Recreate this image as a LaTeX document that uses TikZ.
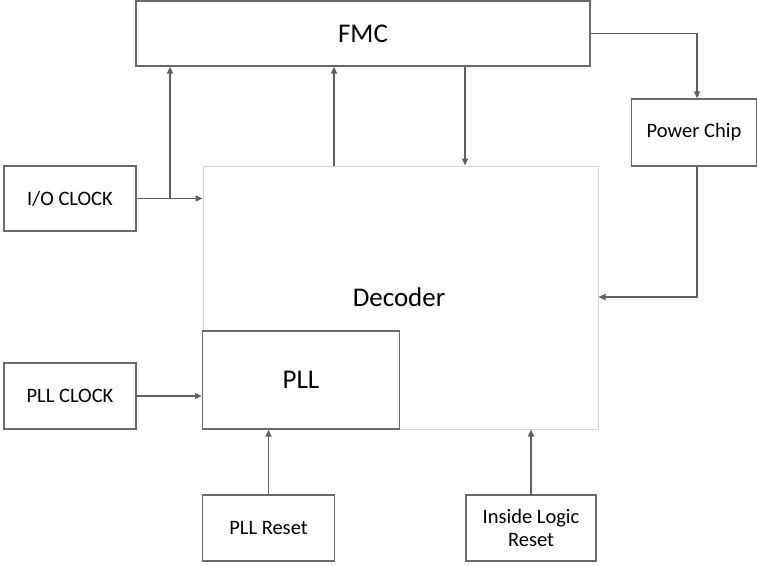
\documentclass[tikz,border=0pt]{standalone}
\usepackage{fontspec}
\setmainfont{Carlito}
\usetikzlibrary{arrows.meta}
\definecolor{linegray}{HTML}{5F5F5F}
\definecolor{boxgray}{HTML}{6A6A6A}
\definecolor{lightgray}{HTML}{D4D4D4}
\begin{document}
\begin{tikzpicture}[x=1pt,y=-1pt,
  blk/.style={draw=boxgray,line width=1.4pt,fill=white,inner sep=0pt},
  conn/.style={draw=linegray,line width=1.6pt,-{Triangle[length=7pt,width=6pt]}},
  small/.style={font=\fontsize{20.5}{23}\selectfont,align=center},
  big/.style={font=\fontsize{27}{29}\selectfont}]
\useasboundingbox (0,0) rectangle (757,565);
% Decoder
\node[draw=lightgray,line width=1pt,minimum width=395pt,minimum height=263pt,inner sep=0pt] (dec) at (400.5,297.5) {};
\node[big] (dectext) at (399,297) {Decoder};
% FMC
\node[blk,minimum width=454pt,minimum height=65pt,big] (fmc) at (363,33.5) {FMC};
% Power Chip
\node[blk,minimum width=125pt,minimum height=67pt,small] (pwr) at (694,132.5) {Power Chip};
% I/O CLOCK
\node[blk,minimum width=132pt,minimum height=65pt,small] (io) at (70,198.5) {I/O CLOCK};
% PLL
\node[blk,minimum width=197pt,minimum height=98pt,big] (pll) at (301,380) {PLL};
% PLL CLOCK
\node[blk,minimum width=132pt,minimum height=66pt,small] (pllclk) at (70,396) {PLL CLOCK};
% PLL Reset
\node[blk,minimum width=132pt,minimum height=66pt,small] (pllrst) at (268.5,528) {PLL Reset};
% Inside Logic Reset
\node[blk,minimum width=130pt,minimum height=66pt,small] (ilr) at (531,528) {Inside Logic\\Reset};
% coordinates
\coordinate (br) at (170,198.5);
% connectors
\draw[conn] (io.east) -- (dec.west |- io.east);
\draw[conn] (br) -- (br |- fmc.south);
\draw[conn] (dec.north -| 334,0) -- (fmc.south -| 334,0);
\draw[conn] (fmc.south -| 465,0) -- (dec.north -| 465,0);
\draw[conn] (fmc.east) -| (pwr.north -| 697,0);
\draw[conn] (pwr.south -| 697,0) |- (dec.east |- 0,297);
\draw[conn] (pllclk.east) -- (pll.west |- pllclk.east);
\draw[conn] (pllrst.north) -- (pll.south -| pllrst.north);
\draw[conn] (ilr.north) -- (dec.south -| ilr.north);
\end{tikzpicture}
\end{document}
